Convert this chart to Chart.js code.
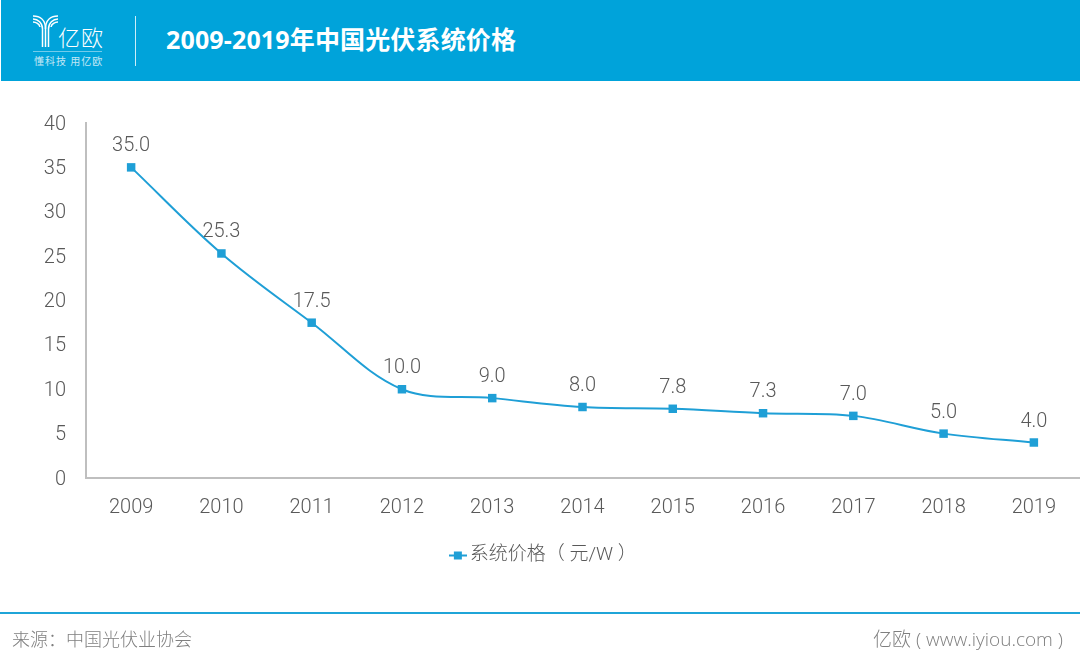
<!DOCTYPE html>
<html>
<head>
<meta charset="utf-8">
<script src="https://cdn.jsdelivr.net/npm/chart.js@4"></script>
<style>
html, body { margin: 0; padding: 0; background: #fff; }
#page { position: relative; width: 1080px; height: 665px; overflow: hidden; font-family: "Open Sans", "Noto Sans CJK SC", sans-serif; }
#header { position: absolute; left: 1px; top: 0; width: 1079px; height: 81px; background: #00a3da; color: #fff; }
#logoIcon { position: absolute; left: 32px; top: 15px; }
#logoName { position: absolute; left: 57px; top: 20px; font: 300 22px "Noto Sans CJK SC", sans-serif; letter-spacing: 1px; }
#logoRule { position: absolute; left: 32px; top: 51px; width: 69px; height: 1px; background: rgba(255,255,255,.45); }
#logoSlogan { position: absolute; left: 33px; top: 53px; font: 10px "Noto Sans CJK SC", sans-serif; letter-spacing: 1px; white-space: nowrap; opacity: .75; }
#divider { position: absolute; left: 134px; top: 16px; width: 1px; height: 50px; background: rgba(255,255,255,.8); }
#title { position: absolute; left: 165px; top: 21px; font: bold 25px/36px "Open Sans", "Noto Sans CJK SC", sans-serif; letter-spacing: .15px; white-space: nowrap; }
#footLine { position: absolute; left: 0; top: 612px; width: 1080px; height: 2px; background: #1fa5d8; }
#source, #site { position: absolute; top: 626px; font: 300 18px/26px "Open Sans", "Noto Sans CJK SC", sans-serif; color: #7f7f7f; white-space: pre; }
#source { left: 12px; }
#site { right: 17px; font-size: 19px; }
canvas { position: absolute; left: 0; top: 0; }
</style>
</head>
<body>
<div id="page">
  <div id="header">
    <svg id="logoIcon" width="26" height="33" viewBox="0 0 26 33" fill="none" stroke="#fff" stroke-width="1.5">
      <path d="M0 1 C7 1 12.500 5 12.500 14 V32"/>
      <path d="M0 4 C5 4 9.500 8 9.500 14 V32"/>
      <path d="M0 7 C3 7 6.500 9 7 12"/>
      <path d="M25 1 C18 1 12.500 5 12.500 14"/>
      <path d="M25 4 C20 4 15.500 8 15.500 14 V32"/>
      <path d="M25 7 C22 7 18.500 9 18 12"/>
    </svg>
    <div id="logoName">亿欧</div>
    <div id="logoRule"></div>
    <div id="logoSlogan">懂科技 用亿欧</div>
    <div id="divider"></div>
    <div id="title">2009-2019年中国光伏系统价格</div>
  </div>
  <canvas id="priceChart" width="1080" height="665"></canvas>
  <div id="footLine"></div>
  <div id="source">来源：中国光伏业协会</div>
  <div id="site">亿欧 ( www.iyiou.com )</div>
</div>
<script>
const years = ['2009', '2010', '2011', '2012', '2013', '2014', '2015', '2016', '2017', '2018', '2019'];
const prices = [35.0, 25.3, 17.5, 10.0, 9.0, 8.0, 7.8, 7.3, 7.0, 5.0, 4.0];
const seriesName = '系统价格（ 元/W ）';

const lineColor = '#1f9fd6';
const textColor = '#595959';
const axisColor = '#bfbfbf';
const chartFont = 'Roboto, "Noto Sans CJK SC", sans-serif';

// legend marker: short line with the square on it
function legendMarker() {
    const c = document.createElement('canvas');
    c.width = 18;
    c.height = 10;
    const g = c.getContext('2d');
    g.fillStyle = lineColor;
    g.fillRect(0, 4, 18, 2);
    g.fillRect(5, 1, 8, 8);
    return c;
}

// value labels above the points
const valueLabels = {
    id: 'valueLabels',
    afterDatasetsDraw(chart) {
        const ctx = chart.ctx;
        ctx.save();
        ctx.font = '300 20px ' + chartFont;
        ctx.fillStyle = textColor;
        ctx.textAlign = 'center';
        ctx.textBaseline = 'middle';
        chart.getDatasetMeta(0).data.forEach((pt, i) => {
            ctx.fillText(prices[i].toFixed(1), pt.x, pt.y - 21);
        });
        ctx.restore();
    }
};

new Chart(document.getElementById('priceChart'), {
    type: 'line',
    data: {
        labels: years,
        datasets: [{
            label: seriesName,
            data: prices,
            borderColor: lineColor,
            backgroundColor: lineColor,
            borderWidth: 2,
            tension: 0.35,
            pointStyle: 'rect',
            pointRadius: 6,
            pointBorderWidth: 0
        }]
    },
    options: {
        responsive: false,
        animation: false,
        layout: { autoPadding: false, padding: { top: 123, right: 1, bottom: 90, left: 13 } },
        plugins: {
            tooltip: { enabled: false },
            legend: {
                position: 'bottom',
                labels: {
                    usePointStyle: true,
                    pointStyleWidth: 5,
                    color: textColor,
                    font: { family: chartFont, size: 19, weight: 300 },
                    generateLabels(chart) {
                        const items = Chart.defaults.plugins.legend.labels.generateLabels(chart);
                        items.forEach(item => { item.pointStyle = legendMarker(); });
                        return items;
                    }
                }
            }
        },
        scales: {
            x: {
                offset: true,
                afterFit(scale) { scale.height = 58; },
                grid: { display: false },
                border: { color: axisColor, width: 2 },
                ticks: {
                    color: textColor,
                    padding: 10,
                    maxRotation: 0,
                    font: { family: chartFont, size: 20, weight: 300 }
                }
            },
            y: {
                min: 0,
                max: 40,
                afterFit(scale) { scale.width = 73; },
                grid: { display: false },
                border: { color: axisColor, width: 2 },
                ticks: {
                    stepSize: 5,
                    color: textColor,
                    padding: 12,
                    labelOffset: 1.5,
                    font: { family: chartFont, size: 20, weight: 300 }
                }
            }
        }
    },
    plugins: [valueLabels]
});
</script>
</body>
</html>
